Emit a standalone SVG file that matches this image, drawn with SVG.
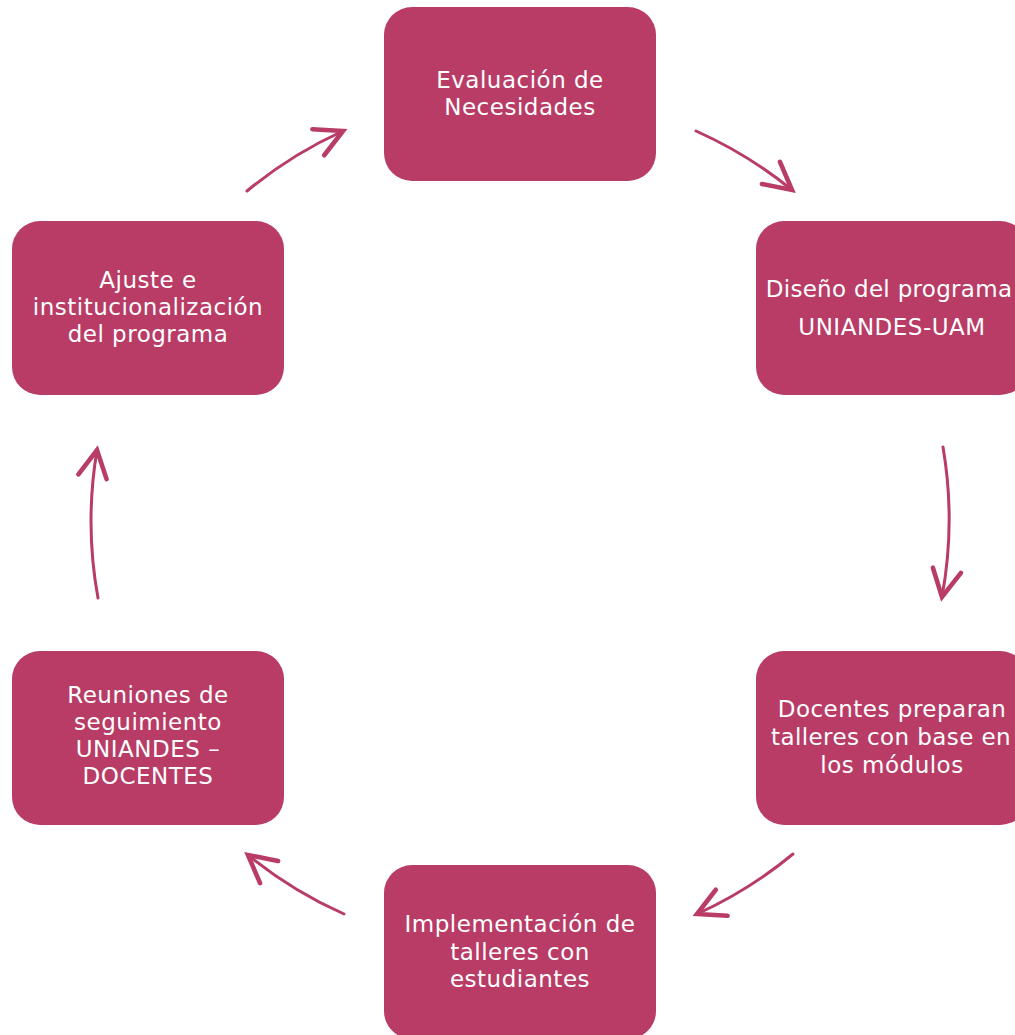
<svg xmlns="http://www.w3.org/2000/svg" width="1015" height="1035" viewBox="0 0 1015 1035">
<defs>
<style>
.box{fill:#B83C66;}
.t{font-family:"DejaVu Sans",sans-serif;font-size:23px;letter-spacing:0.5px;fill:#FFFFFF;text-anchor:middle;}
.c{fill:none;stroke:#B83C66;stroke-width:3;stroke-linecap:round;}
</style>
<marker id="ah" markerUnits="userSpaceOnUse" markerWidth="40" markerHeight="40" viewBox="-22 -14 26 28" refX="0" refY="0" orient="auto">
<path d="M-19,-10 L0,0 L-19,10" fill="none" stroke="#B83C66" stroke-width="3.2" stroke-linecap="round" stroke-linejoin="miter"/>
</marker>
</defs>
<rect width="1015" height="1035" fill="#FFFFFF"/>
<g id="n1"><rect class="box" x="384" y="7" width="272" height="174" rx="28"/>
<text class="t" x="520" y="88">Evaluación de</text><text class="t" x="520" y="115">Necesidades</text></g>
<g id="n2"><rect class="box" x="756" y="221" width="272" height="174" rx="28"/>
<text class="t" x="889" y="297" style="letter-spacing:0.3px">Diseño del programa</text><text class="t" x="892" y="335">UNIANDES-UAM</text></g>
<g id="n3"><rect class="box" x="756" y="651" width="272" height="174" rx="28"/>
<text class="t" x="892" y="717">Docentes preparan</text><text class="t" x="891" y="745" style="letter-spacing:0.4px">talleres con base en</text><text class="t" x="892" y="773">los módulos</text></g>
<g id="n4"><rect class="box" x="384" y="865" width="272" height="174" rx="28"/>
<text class="t" x="520" y="932">Implementación de</text><text class="t" x="520" y="960">talleres con</text><text class="t" x="520" y="987">estudiantes</text></g>
<g id="n5"><rect class="box" x="12" y="651" width="272" height="174" rx="28"/>
<text class="t" x="148" y="703">Reuniones de</text><text class="t" x="148" y="730">seguimiento</text><text class="t" x="148" y="757">UNIANDES –</text><text class="t" x="148" y="784">DOCENTES</text></g>
<g id="n6"><rect class="box" x="12" y="221" width="272" height="174" rx="28"/>
<text class="t" x="148" y="288">Ajuste e</text><text class="t" x="148" y="315">institucionalización</text><text class="t" x="148" y="342">del programa</text></g>
<g id="connectors">
<path class="c" marker-end="url(#ah)" d="M247,191 A429,429 0 0 1 343,131"/>
<path class="c" marker-end="url(#ah)" d="M696,131 A429,429 0 0 1 792,190"/>
<path class="c" marker-end="url(#ah)" d="M943,447 A429,429 0 0 1 942,597"/>
<path class="c" marker-end="url(#ah)" d="M793,854 A429,429 0 0 1 697,914"/>
<path class="c" marker-end="url(#ah)" d="M344,914 A429,429 0 0 1 248,855"/>
<path class="c" marker-end="url(#ah)" d="M98,598 A429,429 0 0 1 97,450"/>
</g>
</svg>
